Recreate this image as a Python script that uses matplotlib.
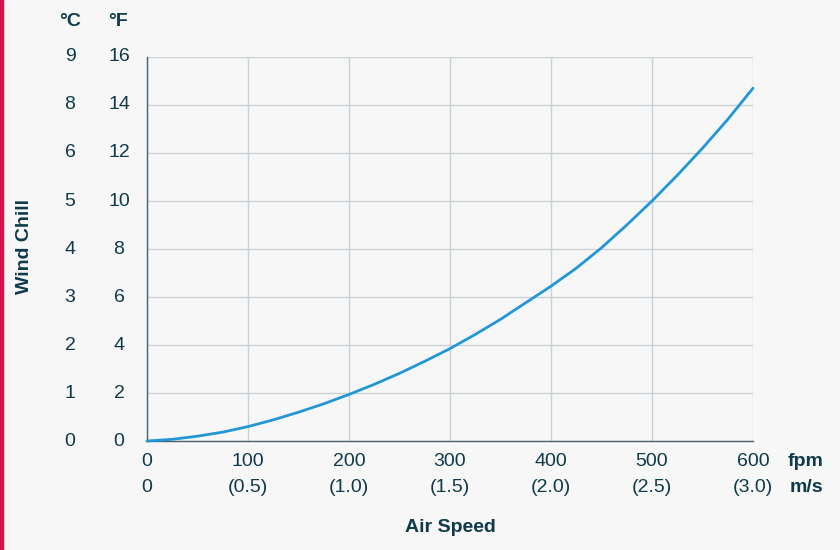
import numpy as np
import matplotlib.pyplot as plt
from matplotlib.patches import Rectangle

plt.rcParams['font.family'] = ['Liberation Sans', 'DejaVu Sans']

# air speed in fpm and wind chill in degrees F
fpm = [0, 25, 50, 75, 100, 125, 150, 175, 200, 225, 250, 275, 300,
       325, 350, 375, 400, 425, 450, 475, 500, 525, 550, 575, 600]
chill_f = [0, 0.07, 0.2, 0.37, 0.6, 0.88, 1.2, 1.55, 1.94, 2.36, 2.82, 3.32, 3.85,
           4.44, 5.07, 5.76, 6.45, 7.2, 8.05, 9.0, 10.0, 11.07, 12.2, 13.4, 14.7]

x_ticks = [0, 100, 200, 300, 400, 500, 600]
ms_labels = ['0', '(0.5)', '(1.0)', '(1.5)', '(2.0)', '(2.5)', '(3.0)']
f_ticks = [0, 2, 4, 6, 8, 10, 12, 14, 16]
c_labels = ['0', '1', '2', '3', '4', '5', '6', '8', '9']

txt = '#0e3a4a'
bg = '#f7f7f7'
fs = 14

fig = plt.figure(figsize=(8.4, 5.5), dpi=100, facecolor=bg)
fig.patches.append(Rectangle((0, 0), 3 / 840, 1, transform=fig.transFigure,
                             color='#d4114d', zorder=5))

ax = fig.add_axes([147 / 840, 109 / 550, 606 / 840, 384 / 550])
ax.set_facecolor(bg)
ax.plot(fpm, chill_f, color='#2396d8', lw=2.0, solid_capstyle='round', zorder=3,
        clip_on=False)

ax.set_xlim(0, 600)
ax.set_ylim(0, 16)
ax.set_xticks(x_ticks)
ax.set_yticks(f_ticks)
ax.grid(True, color='#c9d1d5', lw=1.0)
ax.tick_params(length=0, labelbottom=False, labelleft=False)
for s in ['top', 'right']:
    ax.spines[s].set_visible(False)
for s in ['left', 'bottom']:
    ax.spines[s].set_color('#4a626d')
    ax.spines[s].set_linewidth(1.0)

# y labels: two columns, degrees C and degrees F
ytr = ax.get_yaxis_transform()
for f, c in zip(f_ticks, c_labels):
    ax.text(-77 / 606, f, c, transform=ytr, ha='center', va='center',
            fontsize=fs, color=txt)
    ax.text(-28 / 606, f, str(f), transform=ytr, ha='center', va='center',
            fontsize=fs, color=txt)
fig.text(70 / 840, 1 - 22 / 550, '°C', ha='center', va='center', fontsize=fs,
         color=txt, fontweight='bold')
fig.text(118 / 840, 1 - 22 / 550, '°F', ha='center', va='center', fontsize=fs,
         color=txt, fontweight='bold')

# x labels: fpm and m/s rows
xtr = ax.get_xaxis_transform()
for v, m in zip(x_ticks, ms_labels):
    ax.text(v, -21 / 384, str(v), transform=xtr, ha='center', va='center',
            fontsize=fs, color=txt)
    ax.text(v, -47 / 384, m, transform=xtr, ha='center', va='center',
            fontsize=fs, color=txt)
fig.text(806 / 840, 1 - 462 / 550, 'fpm', ha='center', va='center', fontsize=fs,
         color=txt, fontweight='bold')
fig.text(806 / 840, 1 - 488 / 550, 'm/s', ha='center', va='center', fontsize=fs,
         color=txt, fontweight='bold')

fig.text(450 / 840, 1 - 527 / 550, 'Air Speed', ha='center', va='center',
         fontsize=fs, color=txt, fontweight='bold')
fig.text(25 / 840, 1 - 247 / 550, 'Wind Chill', ha='center', va='center',
         fontsize=fs, color=txt, fontweight='bold', rotation=90)

fig.savefig('out.png', dpi=100, facecolor=bg)
